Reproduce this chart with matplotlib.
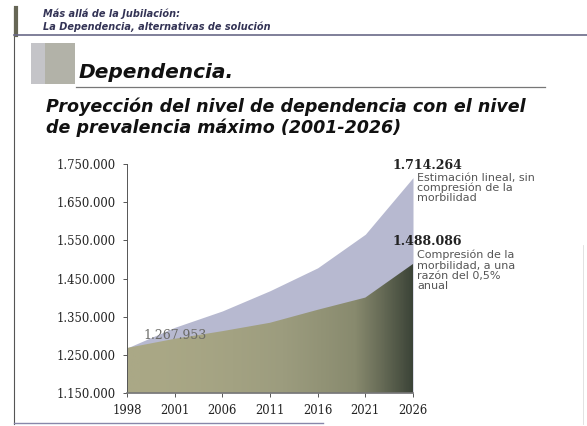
import numpy as np
import matplotlib
matplotlib.use("Agg")
import matplotlib.pyplot as plt
from matplotlib.colors import LinearSegmentedColormap
from matplotlib.ticker import FuncFormatter

# data
years = ["1998", "2001", "2006", "2011", "2016", "2021", "2026"]
linear_est = [1267953, 1322000, 1365000, 1418000, 1478000, 1566000, 1714264]
compressed = [1267953, 1292000, 1312000, 1334000, 1368000, 1400000, 1488086]
yticks = [1150000, 1250000, 1350000, 1450000, 1550000, 1650000, 1750000]

W, H = 587, 426
fig = plt.figure(figsize=(W / 100, H / 100), dpi=100)

def px(x, y):
    return x / W, 1 - y / H

# slide decoration
fig.add_artist(plt.Line2D([14 / W, 14 / W], [1 - 8 / H, 1 - 424 / H], color="#555555", lw=0.8))
fig.add_artist(plt.Line2D([16 / W, 16 / W], [1 - 8 / H, 1 - 35 / H], color="#666655", lw=3))
fig.add_artist(plt.Line2D([14 / W, 1], [1 - 35 / H, 1 - 35 / H], color="#6a6a88", lw=1.2))
fig.add_artist(plt.Line2D([14 / W, 0.55], [1 - 423 / H, 1 - 423 / H], color="#8888aa", lw=1.0))
fig.add_artist(plt.Line2D([583 / W, 583 / W], [1 - 245 / H, 1 - 424 / H], color="#dddddd", lw=0.6))
fig.add_artist(plt.Rectangle(px(31, 84), 44 / W, 41 / H, color="#b2b2a8", lw=0))
fig.add_artist(plt.Rectangle(px(31, 84), 14 / W, 41 / H, color="#c4c4c8", lw=0))
fig.add_artist(plt.Line2D([76 / W, 545 / W], [1 - 87 / H, 1 - 87 / H], color="#777777", lw=0.9))

fig.text(*px(43, 14), "Más allá de la Jubilación:", fontsize=7, style="italic",
         weight="bold", color="#333355", va="center")
fig.text(*px(43, 27), "La Dependencia, alternativas de solución", fontsize=7,
         style="italic", weight="bold", color="#333355", va="center")
fig.text(*px(79, 73), "Dependencia.", fontsize=14.5, style="italic", weight="bold",
         color="#111111", va="center")
fig.text(*px(46, 117), "Proyección del nivel de dependencia con el nivel\nde prevalencia máximo (2001-2026)",
         fontsize=12.6, style="italic", weight="bold", color="#111111", va="center",
         linespacing=1.2)

# chart
ax = fig.add_axes([127 / W, 33 / H, (413 - 127) / W, (393 - 164) / H])
x = np.arange(len(years))
ax.fill_between(x, yticks[0], linear_est, color="#b7b9d0", lw=0, zorder=1)
poly = ax.fill_between(x, yticks[0], compressed, color="none", lw=0, zorder=2)

cmap = LinearSegmentedColormap.from_list("olive", ["#aaa886", "#9c9c7e", "#888a6e", "#3c4438"])
grad = np.linspace(0, 1, 256) ** 1.8
img = ax.imshow(np.tile(grad, (2, 1)), cmap=cmap, aspect="auto",
                extent=[0, 6, yticks[0], 1500000], zorder=2)
img.set_clip_path(poly.get_paths()[0], transform=ax.transData)

ax.set_xlim(0, 6)
ax.set_ylim(yticks[0], yticks[-1])
ax.set_yticks(yticks)
ax.yaxis.set_major_formatter(FuncFormatter(lambda v, p: f"{int(v):,}".replace(",", ".")))
ax.set_xticks(x)
ax.set_xticklabels(years)
for lab in ax.get_yticklabels():
    lab.set_fontfamily("DejaVu Serif")
    lab.set_fontsize(8.4)
    lab.set_color("#222222")
for lab in ax.get_xticklabels():
    lab.set_fontfamily("DejaVu Serif")
    lab.set_fontsize(8.4)
    lab.set_color("#222222")
ax.tick_params(axis="both", length=3, width=0.7, color="#555555", pad=5)
for s in ["top", "right"]:
    ax.spines[s].set_visible(False)
ax.spines["left"].set_color("#555555")
ax.spines["bottom"].set_color("#777777")
ax.spines["left"].set_linewidth(0.7)
ax.spines["bottom"].set_linewidth(1.2)
ax.set_facecolor("none")

ax.annotate("1.267.953", (0, linear_est[0]), xytext=(16, 12), textcoords="offset pixels",
            fontfamily="DejaVu Serif", fontsize=9, color="#6a6a66", va="center", zorder=5)
ax.annotate("1.714.264", (6, linear_est[-1]), xytext=(-20, 12), textcoords="offset pixels",
            fontfamily="DejaVu Serif", fontsize=9, weight="bold", color="#222222",
            va="center", annotation_clip=False)
ax.annotate("Estimación lineal, sin\ncompresión de la\nmorbilidad", (6, linear_est[-1]),
            xytext=(4, 5), textcoords="offset pixels", fontsize=8, color="#555555",
            va="top", linespacing=1.02, annotation_clip=False)
ax.annotate("1.488.086", (6, compressed[-1]), xytext=(-20, 22), textcoords="offset pixels",
            fontfamily="DejaVu Serif", fontsize=9, weight="bold", color="#222222",
            va="center", annotation_clip=False)
ax.annotate("Compresión de la\nmorbilidad, a una\nrazón del 0,5%\nanual", (6, compressed[-1]),
            xytext=(4, 14), textcoords="offset pixels", fontsize=8, color="#555555",
            va="top", linespacing=1.02, annotation_clip=False)

fig.savefig("out.png", dpi=100)
